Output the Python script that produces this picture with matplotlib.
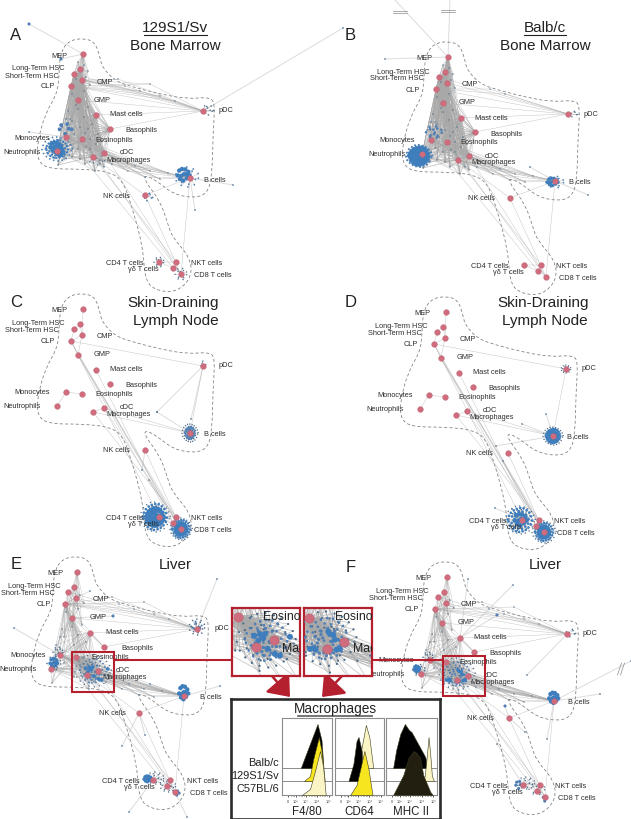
import itertools
import matplotlib
matplotlib.use("Agg")
import matplotlib.pyplot as plt
from matplotlib.collections import LineCollection
from matplotlib.patches import Rectangle, PathPatch, FancyArrowPatch
from matplotlib.path import Path

plt.rcParams['font.family'] = ['Liberation Sans', 'DejaVu Sans']
W, H = 631, 820

# ---------- network: labelled population hubs (layout) ----------
HUB_NAMES = ['MEP', 'Long-Term HSC', 'Short-Term HSC', 'CMP', 'CLP', 'GMP', 'Mast cells', 'Basophils',
             'Monocytes', 'Eosinophils', 'Neutrophils', 'cDC', 'Macrophages', 'B cells', 'NK cells', 'pDC',
             'CD4 T cells', 'γδ T cells', 'NKT cells', 'CD8 T cells']
HUB_X = [83, 80, 74, 82, 71, 78, 96, 110, 66, 82, 57, 104, 93, 190, 145, 203, 159, 173, 176, 181]
HUB_Y = [55, 70, 75, 81, 87, 101, 116, 130, 138, 140, 152, 154, 158, 179, 196, 112, 263, 269, 263, 275]
LABEL_X = [59, 38, 32, 105, 48, 102, 126, 141, 32, 114, 22, 127, 129, 215, 116, 226, 125, 143, 207, 213]
LABEL_Y = [56, 69, 76, 82, 87, 100, 115, 131, 138, 140, 152, 153, 160, 180, 196, 111, 264, 270, 264, 276]
POS = {n: (x, y) for n, x, y in zip(HUB_NAMES, HUB_X, HUB_Y)}

PANELS = ['A', 'B', 'C', 'D', 'E', 'F']
ORIGIN_X = {'A': 0, 'B': 365, 'C': 0, 'D': 363, 'E': -6, 'F': 364}
ORIGIN_Y = {'A': 0, 'B': 3, 'C': 255, 'D': 258, 'E': 518, 'F': 523}
LABEL_SHIFT_X = {'A': 0, 'B': 0, 'C': 0, 'D': 0, 'E': 2, 'F': 0}

HULL_X = [68, 83, 95, 100, 102, 115, 133, 160, 187, 210, 215, 213, 212, 207, 193, 173, 157, 145, 145, 160, 167, 172,
          190, 192, 177, 157, 145, 143, 132, 123, 110, 83, 50, 38, 37, 45, 57, 59, 60]
HULL_Y = [42, 39, 43, 58, 68, 82, 88, 95, 100, 98, 105, 135, 178, 195, 199, 195, 182, 176, 182, 202, 222, 238,
          258, 278, 293, 292, 282, 248, 208, 182, 173, 170, 170, 163, 145, 115, 95, 78, 55]

# irregular cloud of satellites, as unit offsets, read from the pDC/B-cell halos
HALO_X = [.95, .82, .61, .35, .08, -.22, -.48, -.71, -.9, -1.0, -.93, -.78, -.55, -.3, -.02, .27, .52, .76, .92, 1.02,
          .7, .45, .15, -.18, -.44, -.66, -.72, -.5, -.2, .1, .42, .66, .36, .02, -.3, -.38, -.08, .25, .4, .12]
HALO_Y = [.12, .5, .78, .93, 1.0, .94, .83, .63, .38, .05, -.3, -.62, -.82, -.97, -1.0, -.92, -.8, -.6, -.34, -.05,
          .25, .62, .72, .74, .55, .3, -.08, -.45, -.7, -.74, -.58, -.3, .05, .38, .3, -.1, -.4, -.35, .02, .1]
BIG_X = [-.6, -.25, .15, .55, .7, .35, -.1, -.5, -.8, .0, .35, -.35]
BIG_Y = [-.55, -.75, -.7, -.4, .05, .4, .7, .5, .05, -.1, -.05, .1]

SMALL, MED, LARGE = 1.0, 3.0, 10.0
DARK, STEEL, BLUE = '#4d6d8c', '#4f7fb4', '#3f7ebd'

# (kind, hubs, dx, dy, rx, ry, step, size, colour)
STAMPS = {
    'A': [('h', ['Neutrophils'], 0, -2, 15, 12, 1, 1.6, STEEL), ('h', ['Neutrophils'], 0, -2, -11, 9, 1, 2.5, BLUE),
          ('b', ['Neutrophils'], -1, -4, 7, 6, 1, LARGE, BLUE), ('b', ['Neutrophils'], 2, 1, -5, 5, 1, LARGE, BLUE),
          ('b', ['Monocytes'], 0, -8, 8, 7, 2, 8, STEEL), ('b', ['B cells'], -6, -3, 8, 8, 1, LARGE, BLUE),
          ('h', ['B cells'], -3, -1, 12, 10, 2, 1.5, STEEL), ('h', ['pDC'], 5, -1, 6, 5, 4, 1.2, DARK),
          ('h', ['CD4 T cells'], 0, 0, 5, 5, 3, 1.0, DARK), ('h', ['CD8 T cells'], 0, 0, 6, 6, 3, 1.0, DARK),
          ('h', ['NK cells'], 3, 2, 5, 4, 5, 1.5, STEEL), ('h', ['Macrophages'], 4, 3, 8, 5, 4, 1.0, DARK)],
    'B': [('h', ['Neutrophils'], -3, 2, 13, 11, 1, 2.4, STEEL), ('h', ['Neutrophils'], -3, 2, -10, 9, 1, 7, BLUE),
          ('h', ['Neutrophils'], -3, 2, 7, -6, 1, 8, BLUE), ('b', ['Neutrophils'], -3, 1, 10, 8, 1, LARGE, BLUE),
          ('h', ['Monocytes'], 3, -8, 8, 6, 3, 3.5, STEEL), ('b', ['B cells'], -2, 1, 7, 5, 1, 7, BLUE),
          ('h', ['B cells'], 0, 1, 9, 6, 3, 1.5, STEEL), ('h', ['pDC'], 5, 0, 5, 3, 5, 1.0, DARK)],
    'C': [('h', ['B cells'], 0, 0, 8, 9, 1, 1.0, DARK), ('h', ['B cells'], 0, 0, -5, 6, 1, 2.0, STEEL),
          ('h', ['CD4 T cells'], -4, 0, 15, 15, 1, 1.0, DARK), ('h', ['CD4 T cells'], -4, 0, -12, 13, 1, 3.5, BLUE),
          ('h', ['CD4 T cells'], -4, 0, 9, -9, 1, 8, BLUE), ('b', ['CD4 T cells'], -5, 2, 7, 8, 1, 10, BLUE),
          ('h', ['CD8 T cells'], 0, 0, 11, 11, 1, 1.0, DARK), ('h', ['CD8 T cells'], 0, 0, -9, 9, 1, 3, BLUE),
          ('h', ['CD8 T cells'], 0, 0, 6, -6, 1, 6, BLUE), ('h', ['pDC'], 0, -2, 3, 3, 7, 0.8, DARK)],
    'D': [('h', ['B cells'], 0, 0, 10, 9, 1, 1.0, DARK), ('h', ['B cells'], 0, 0, -7, 7, 1, 4, BLUE),
          ('b', ['B cells'], 0, 0, 6, 6, 1, 7, BLUE), ('h', ['pDC'], 0, 0, 5, 4, 2, 0.8, DARK),
          ('h', ['CD4 T cells'], -2, 0, 15, 14, 1, 1.0, DARK), ('h', ['CD4 T cells'], -2, 0, -12, 12, 1, 3.5, BLUE),
          ('b', ['CD4 T cells'], -1, 0, 8, 8, 1, 11, BLUE), ('h', ['CD8 T cells'], 0, 0, 12, 11, 1, 1.0, DARK),
          ('h', ['CD8 T cells'], 0, 0, -9, 9, 1, 3, BLUE), ('h', ['CD8 T cells'], 0, 0, 6, -6, 1, 5, BLUE)],
    'E': [('h', ['Macrophages', 'Eosinophils'], 6, -4, 18, 16, 1, 1.0, DARK),
          ('h', ['Macrophages', 'Eosinophils'], 6, -4, -13, 12, 1, 1.4, STEEL),
          ('h', ['Macrophages'], 5, -3, 8, -8, 2, 2.0, STEEL),
          ('b', ['Neutrophils'], 3, -6, 5, 6, 1, 6, BLUE), ('h', ['Neutrophils'], 3, -6, 7, 7, 3, 1.2, DARK),
          ('b', ['B cells'], 0, -3, 6, 9, 1, 10, BLUE), ('h', ['pDC'], 0, -2, 8, 8, 2, 1.2, DARK),
          ('h', ['pDC'], 0, -2, -5, 5, 5, 1.8, STEEL), ('b', ['CD4 T cells'], -5, -1, 5, 4, 1, 6, BLUE),
          ('h', ['CD4 T cells'], 2, -2, 9, 6, 2, 1.0, DARK), ('b', ['CD8 T cells'], 2, 1, 3, 3, 2, 5, STEEL),
          ('h', ['γδ T cells'], 1, 0, 8, 6, 2, 1.0, DARK), ('h', ['Monocytes'], -2, -3, 5, 5, 3, 1.2, DARK)],
    'F': [('h', ['Macrophages', 'Eosinophils'], 0, -6, 18, 16, 1, 1.0, DARK),
          ('h', ['Macrophages', 'Eosinophils'], 0, -6, -13, 12, 1, 1.4, STEEL),
          ('h', ['Macrophages'], 0, -4, 8, -8, 2, 2.0, STEEL),
          ('b', ['Neutrophils'], -4, -5, 4, 4, 1, 5, BLUE), ('h', ['Neutrophils'], -2, -4, 6, 6, 3, 1.2, DARK),
          ('b', ['B cells'], 0, -3, 6, 7, 1, 10, BLUE), ('h', ['pDC'], 4, -1, 5, 4, 5, 1.2, DARK),
          ('b', ['CD4 T cells'], -4, 0, 4, 5, 2, 5, STEEL), ('h', ['CD4 T cells'], 3, -2, 9, 6, 2, 1.0, DARK),
          ('b', ['CD8 T cells'], 0, 2, 3, 3, 3, 5, STEEL), ('h', ['NKT cells'], -3, 4, 8, 6, 3, 1.0, DARK),
          ('h', ['Monocytes'], -2, -3, 5, 5, 3, 1.2, DARK)],
}

# larger marked nodes (figure pixels)
LIVER_E_X = [85.8, 89.3, 91.3, 88.2, 92.4, 94, 98.5, 101.6, 107.8]
LIVER_E_Y = [669.3, 668.3, 670.8, 672.2, 668.3, 677, 680, 681, 669.9]
LIVER_F_X = [459, 461.1, 458, 462.1, 448.8, 446.7, 450.2, 465.2, 463.2]
LIVER_F_Y = [672.3, 672.9, 670.9, 675.6, 680.7, 681.1, 681.5, 681.1, 681.5]

# shared nodes that join several populations (layout of panel A)
TOP_X = [78, 84, 88, 76, 86, 90, 72, 84, 78, 70, 88]
TOP_Y = [63, 66, 72, 80, 78, 86, 95, 92, 110, 120, 108]
MID_X = [62, 72, 80, 88, 92, 85, 70, 78, 86, 72, 80, 90, 96, 64, 100, 85, 95, 104, 68, 76, 84, 74, 90, 98, 66, 82, 58, 102]
MID_Y = [128, 122, 128, 130, 125, 134, 146, 150, 148, 158, 160, 150, 145, 160, 165, 165, 172, 168, 112, 106, 118, 135, 140, 135, 120, 142, 166, 142]
PDC_X = [125, 140, 160, 175, 118, 150]
PDC_Y = [87, 92, 97, 102, 80, 85]
BLINK_X = [120, 135, 150, 168, 145, 160, 128, 112]
BLINK_Y = [162, 167, 172, 174, 178, 180, 172, 165]
TOP_HUBS = ['MEP', 'Long-Term HSC', 'Short-Term HSC', 'CMP', 'CLP', 'GMP']
MYELOID_HUBS = ['GMP', 'CLP', 'Short-Term HSC', 'Mast cells', 'Basophils', 'Monocytes', 'Eosinophils', 'Neutrophils', 'cDC', 'Macrophages']
BLINK_HUBS = ['Macrophages', 'cDC', 'Eosinophils', 'Monocytes', 'B cells']
LIVER_HUBS = ['GMP', 'CLP', 'Mast cells', 'Monocytes', 'Eosinophils', 'Neutrophils']
GROUPS = {
    'A': [(TOP_X, TOP_Y, TOP_HUBS), (MID_X, MID_Y, MYELOID_HUBS + ['CMP', 'Long-Term HSC']), (PDC_X, PDC_Y, ['CLP', 'CMP', 'pDC']), (BLINK_X, BLINK_Y, BLINK_HUBS)],
    'B': [(TOP_X, TOP_Y, TOP_HUBS), (MID_X, MID_Y, MYELOID_HUBS + ['CMP', 'Long-Term HSC', 'MEP']), (PDC_X[:2], PDC_Y[:2], ['CLP', 'pDC']), (BLINK_X, BLINK_Y, BLINK_HUBS)],
    'C': [], 'D': [],
    'E': [(TOP_X[4:], TOP_Y[4:], TOP_HUBS), (MID_X[::2], MID_Y[::2], LIVER_HUBS), (PDC_X, PDC_Y, ['CLP', 'pDC']), (BLINK_X, BLINK_Y, BLINK_HUBS)],
    'F': [(TOP_X[4:], TOP_Y[4:], TOP_HUBS), (MID_X[::2], MID_Y[::2], LIVER_HUBS), (PDC_X, PDC_Y, ['CLP', 'pDC']), (BLINK_X, BLINK_Y, BLINK_HUBS)],
}

LOCAL_EDGES = [('MEP', 'CMP'), ('Long-Term HSC', 'Short-Term HSC'), ('Long-Term HSC', 'CMP'), ('Short-Term HSC', 'CLP'), ('CMP', 'CLP'),
               ('CLP', 'GMP'), ('CMP', 'GMP'), ('Monocytes', 'Eosinophils'), ('Monocytes', 'Neutrophils'), ('cDC', 'Macrophages')]
LONG_EDGES = {
    'lymph': [('CLP', 'pDC'), ('pDC', 'B cells'), ('Macrophages', 'B cells'), ('cDC', 'B cells'), ('GMP', 'NKT cells'), ('GMP', 'γδ T cells'), ('CLP', 'CD4 T cells'),
              ('CLP', 'CD8 T cells'), ('GMP', 'CD8 T cells'), ('NK cells', 'CD8 T cells'), ('Mast cells', 'γδ T cells'), ('Macrophages', 'NKT cells'), ('cDC', 'CD8 T cells'),
              ('CD4 T cells', 'γδ T cells'), ('CD4 T cells', 'NKT cells'), ('CD4 T cells', 'CD8 T cells'), ('γδ T cells', 'NKT cells'), ('NKT cells', 'CD8 T cells'), ('γδ T cells', 'CD8 T cells')],
    'marrow': [('CLP', 'pDC'), ('CMP', 'pDC'), ('Short-Term HSC', 'pDC'), ('GMP', 'pDC'), ('Mast cells', 'pDC'), ('Macrophages', 'NKT cells'), ('cDC', 'CD8 T cells'), ('Eosinophils', 'CD8 T cells'),
               ('Monocytes', 'γδ T cells'), ('NK cells', 'B cells'), ('NK cells', 'CD8 T cells'), ('B cells', 'CD8 T cells'), ('CD4 T cells', 'NKT cells'), ('γδ T cells', 'CD8 T cells'), ('Macrophages', 'NK cells'),
               ('Basophils', 'pDC'), ('CD4 T cells', 'γδ T cells')],
}
PANEL_LONG = {'A': 'marrow', 'B': 'marrow', 'C': 'lymph', 'D': 'lymph', 'E': 'marrow', 'F': 'marrow'}

# outlying nodes and the population they hang from (figure pixels)
SPURS = {
    'A': [(29, 25, 'MEP'), (61, 60, 'MEP'), (29, 133, 'Monocytes'), (233, 186, 'B cells'), (195, 211, 'B cells'), (343, 29, 'pDC')],
    'B': [(394, 0, 'MEP'), (450, 0, 'MEP'), (588, 196, 'B cells'), (385, 60, 'MEP'), (530, 168, 'B cells')],
    'C': [(157, 413, 'pDC'), (157, 413, 'B cells'), (191, 420, 'pDC'), (142, 471, 'NK cells'), (149, 481, 'CD8 T cells')],
    'D': [(546, 415, 'B cells'), (522, 425, 'B cells'), (496, 447, 'B cells'), (503, 462, 'CD8 T cells'), (512, 510, 'CD4 T cells'), (495, 509, 'CD4 T cells')],
    'E': [(217, 580, 'pDC'), (14, 629, 'Monocytes'), (122, 747, 'NK cells'), (129, 813, 'CD4 T cells'), (187, 818, 'CD8 T cells'), (90, 592, 'CMP'),
          (113, 617, 'GMP'), (220, 687, 'B cells'), (150, 685, 'B cells'), (145, 736, 'NK cells')],
    'F': [(513, 586, 'Mast cells'), (497, 616, 'Mast cells'), (631, 662, 'B cells'), (600, 695, 'B cells'), (505, 707, 'NK cells'), (525, 733, 'NK cells'),
          (497, 745, 'CD4 T cells'), (547, 740, 'B cells'), (468, 580, 'Mast cells'), (527, 676, 'pDC')],
}
BLUE_SPURS = [(29, 25), (61, 60), (113, 617), (497, 616), (505, 707)]

# ---------- flow-cytometry histograms ----------
F480_BLACK_X = [.375, .71, .79, .83]
F480_BLACK_H = [0, 44, 28, 0]
F480_YELLOW_X = [.44, .56, .625, .737, .79, .855]
F480_YELLOW_H = [0, 5, 22, 44, 30, 0]
F480_PALE_X = [.40, .56, .66, .76, .82, .875]
F480_PALE_H = [0, 6, 24, 44, 29, 0]
CD64_PALE_X = [.48, .545, .63, .70, .78]
CD64_PALE_H = [0, 21, 43, 31, 0]
CD64_BLACK_X = [.275, .375, .44, .48, .545, .58]
CD64_BLACK_H = [0, 17, 40, 44, 30, 0]
CD64_YELLOW_X = [.31, .44, .60, .68, .765]
CD64_YELLOW_H = [0, 10, 44, 27, 0]
MHC_BLACK_X = [.14, .20, .28, .37, .45, .50, .63, .77, .82]
MHC_BLACK_H = [0, 18, 34, 44, 38, 36, 24, 11, 0]
MHC_PALE_X = [.72, .76, .80, .834, .87, .90, .94]
MHC_PALE_H = [0, 5, 25, 44, 25, 5, 0]
MHC_OLIVE_X = [.14, .20, .34, .44, .54, .60, .67, .73, .87, .92]
MHC_OLIVE_H = [0, 6, 20, 37, 44, 42, 37, 20, 3, 0]
STRAINS = ['Balb/c', '129S1/Sv', 'C57BL/6']
MARKERS = ['F4/80', 'CD64', 'MHC II']
BLACK_C, YELLOW_C, PALE_C, OLIVE_C = '#000000', '#f6e51f', '#fbf4c4', '#231f10'
HISTS = [
    [(F480_BLACK_X, F480_BLACK_H, 27, BLACK_C), (F480_YELLOW_X, F480_YELLOW_H, 14, YELLOW_C), (F480_PALE_X, F480_PALE_H, 0, PALE_C)],
    [(CD64_PALE_X, CD64_PALE_H, 27, PALE_C), (CD64_BLACK_X, CD64_BLACK_H, 14, BLACK_C), (CD64_YELLOW_X, CD64_YELLOW_H, 0, YELLOW_C)],
    [(MHC_BLACK_X, MHC_BLACK_H, 27, BLACK_C), (MHC_PALE_X, MHC_PALE_H, 14, PALE_C), (MHC_OLIVE_X, MHC_OLIVE_H, 0, OLIVE_C)],
]
TICK_POS = [.12, .27, .47, .70, .93]
TICK_TEXT = ['0', '10²', '10³', '10⁴', '10⁵']

HUB_C, RED = '#cf6c7e', '#b4202e'
TEXT_C = '#2e2e2e'

fig = plt.figure(figsize=(W / 100, H / 100), dpi=100)
ax = fig.add_axes([0, 0, 1, 1])
ax.set_xlim(0, W)
ax.set_ylim(H, 0)
ax.axis('off')


def px_axes(x0, y0, x1, y1, zorder=5):
    return fig.add_axes([x0 / W, 1 - y1 / H, (x1 - x0) / W, (y1 - y0) / H], zorder=zorder)


def draw_network(a, p, k=1.0):
    ox, oy = ORIGIN_X[p], ORIGIN_Y[p]
    hub = {n: (x + ox, y + oy) for n, (x, y) in POS.items()}
    segs, fars, nodes = [], [], []
    for u, v in LOCAL_EDGES + LONG_EDGES[PANEL_LONG[p]]:
        segs.append([hub[u], hub[v]])
    if p in 'AB':
        for u, v in itertools.combinations(MYELOID_HUBS, 2):
            segs.append([hub[u], hub[v]])
        for u, v in itertools.combinations(TOP_HUBS, 2):
            segs.append([hub[u], hub[v]])
        for u, v in itertools.product(TOP_HUBS[2:], MYELOID_HUBS[3:]):
            segs.append([hub[u], hub[v]])
    if p in 'EF':
        for u, v in itertools.product(['CLP', 'GMP', 'Mast cells'], ['Monocytes', 'Eosinophils', 'cDC', 'Macrophages', 'Basophils']):
            segs.append([hub[u], hub[v]])
    for xs, ys, hubs in GROUPS[p]:
        for x, y in zip(xs, ys):
            q = (x + ox, y + oy)
            nodes.append((q[0], q[1], 1.0, DARK))
            segs += [[q, hub[h]] for h in hubs]
    for kind, hubs, dx, dy, rx, ry, step, size, colour in STAMPS[p]:
        cx, cy = hub[hubs[0]][0] + dx, hub[hubs[0]][1] + dy
        ux, uy = (HALO_X, HALO_Y) if kind == 'h' else (BIG_X, BIG_Y)
        for a_x, a_y in zip(ux[::step], uy[::step]):
            q = (cx + a_x * rx, cy + a_y * ry)
            nodes.append((q[0], q[1], size, colour))
            segs += [[q, hub[h]] for h in hubs]
    if p in 'EF':
        lx, ly = (LIVER_E_X, LIVER_E_Y) if p == 'E' else (LIVER_F_X, LIVER_F_Y)
        for x, y in zip(lx, ly):
            nodes.append((x, y, 7, BLUE))
            segs += [[(x, y), hub[h]] for h in ['Macrophages', 'Eosinophils', 'cDC', 'Monocytes', 'Neutrophils', 'B cells']]
    for x, y, h in SPURS[p]:
        fars.append([(x, y), hub[h]])
        if (x, y) in BLUE_SPURS:
            nodes.append((x, y, 5, STEEL))
        else:
            nodes.append((x, y, 1.4, DARK))
    a.add_collection(LineCollection(fars, colors='#dcdcdc', linewidths=0.7 * k, zorder=1))
    a.add_collection(LineCollection(segs, colors='#a8a8a8', linewidths=0.32 * k, alpha=0.7, zorder=2))
    nodes.sort(key=lambda n: n[2])
    a.scatter([n[0] for n in nodes], [n[1] for n in nodes], s=[n[2] * k * k for n in nodes],
              c=[n[3] for n in nodes], linewidths=0, zorder=3)
    a.scatter([h[0] for h in hub.values()], [h[1] for h in hub.values()], s=17 * k * k, c=HUB_C,
              edgecolors='#b85f70', linewidths=0.25 * k, zorder=4)


def hull_path(ox, oy):
    pts = [(x + ox, y + oy) for x, y in zip(HULL_X, HULL_Y)]
    mid = lambda a, b: ((a[0] + b[0]) / 2, (a[1] + b[1]) / 2)
    verts, codes = [mid(pts[-1], pts[0])], [Path.MOVETO]
    for i, c in enumerate(pts):
        verts += [c, mid(c, pts[(i + 1) % len(pts)])]
        codes += [Path.CURVE3, Path.CURVE3]
    return Path(verts, codes)


for p in PANELS:
    ox, oy = ORIGIN_X[p], ORIGIN_Y[p]
    ax.add_patch(PathPatch(hull_path(ox, oy), fill=False, ec='#7a7a7a', lw=0.55, ls=(0, (4, 3)), zorder=1.5))
    draw_network(ax, p)
    for n, x, y in zip(HUB_NAMES, LABEL_X, LABEL_Y):
        ax.text(x + ox + LABEL_SHIFT_X[p], y + oy, n, fontsize=5.3, color=TEXT_C, ha='center', va='center', zorder=6)

# breaks on edges that leave the frame
for x, y in [(400, 13), (448, 12)]:
    for d in (-1, 1):
        ax.plot([x - 7, x + 7], [y + d, y + d], color='#8a8a8a', lw=0.5, zorder=6)
for d in (-1.5, 1.5):
    ax.plot([619 + d, 623 + d], [676, 664], color='#8a8a8a', lw=0.5, zorder=6)

# letters and titles
for s, x, y in [('A', 16, 36), ('B', 350, 36), ('C', 16, 303), ('D', 351, 303), ('E', 16, 565), ('F', 351, 568)]:
    ax.text(x, y, s, fontsize=12, color='#222222', ha='center', va='center')
for s, x, y in [('129S1/Sv', 175, 28), ('Bone Marrow', 175, 46), ('Balb/c', 545, 28), ('Bone Marrow', 545, 46),
                ('Skin-Draining', 173, 303), ('Lymph Node', 176, 321), ('Skin-Draining', 543, 303), ('Lymph Node', 545, 321),
                ('Liver', 175, 565), ('Liver', 545, 565)]:
    ax.text(x, y, s, fontsize=11, color='#222222', ha='center', va='center')
ax.plot([144, 207], [36, 36], color='#222222', lw=0.8)
ax.plot([524, 566], [36, 36], color='#222222', lw=0.8)

# red selection boxes and magnified crops
ax.add_patch(Rectangle((72, 653), 42, 40, fill=False, ec=RED, lw=1.5, zorder=7))
ax.add_patch(Rectangle((443, 657), 42, 40, fill=False, ec=RED, lw=1.5, zorder=7))
ax.plot([114, 232], [661, 661], color=RED, lw=1.5, zorder=7)
ax.plot([372, 443], [661, 661], color=RED, lw=1.5, zorder=7)
for p, (x0, y0, x1, y1), (cx0, cy0, cx1, cy1), (ex, mx) in [
        ('E', (232, 609, 300, 677), (72, 653, 114, 693), (263, 282)),
        ('F', (304, 609, 372, 677), (443, 657, 485, 697), (335, 353))]:
    z = px_axes(x0, y0, x1, y1)
    z.set_xlim(cx0, cx1)
    z.set_ylim(cy1, cy0)
    z.set_xticks([])
    z.set_yticks([])
    draw_network(z, p, 1.62)
    for sp in z.spines.values():
        sp.set_color(RED)
        sp.set_linewidth(1.6)
    for s, fx, fy in [('Eosinophils', ex, 617), ('Macrophages', mx, 649)]:
        z.text((fx - x0) / (x1 - x0), 1 - (fy - y0) / (y1 - y0), s, transform=z.transAxes, fontsize=8.8, color='#222222',
               ha='left', va='center', clip_on=True, zorder=8)

for a, b in [((272, 677), (290, 698)), ((342, 677), (322, 698))]:
    ax.add_patch(FancyArrowPatch(a, b, arrowstyle='-|>,head_length=0.6,head_width=0.48', mutation_scale=20,
                                 color=RED, lw=1.8, zorder=7, shrinkA=0, shrinkB=0))

# macrophage histogram box
box = px_axes(231, 700, 440, 820, zorder=6)
box.set_xlim(231, 440)
box.set_ylim(820, 700)
box.set_xticks([])
box.set_yticks([])
for sp in box.spines.values():
    sp.set_color('#2b2b2b')
    sp.set_linewidth(1.9)
box.text(335, 709, 'Macrophages', fontsize=9.8, color='#222222', ha='center', va='center')
box.plot([298, 372], [716.5, 716.5], color='#6a6a6a', lw=1.3)
for s, y in zip(STRAINS, [763, 776, 789]):
    box.text(279, y, s, fontsize=7.9, color='#222222', ha='right', va='center')
for (x0, x1), hists, m in zip([(282, 332), (335, 384), (386, 437)], HISTS, MARKERS):
    h = px_axes(x0, 719, x1, 796, zorder=7)
    h.set_xlim(0, 1)
    h.set_ylim(0, 77)
    for sp in h.spines.values():
        sp.set_color('#8c8c8c')
        sp.set_linewidth(0.8)
    h.set_yticks([])
    h.set_xticks(TICK_POS)
    h.set_xticklabels(TICK_TEXT, fontsize=2.8, color='#444444')
    h.set_xticks([.18, .21, .24, .33, .37, .40, .43, .53, .57, .60, .63, .66, .76, .80, .83, .86, .89], minor=True)
    h.tick_params(axis='x', which='major', length=1.6, width=0.5, pad=1.2, color='#111111')
    h.tick_params(axis='x', which='minor', length=1.0, width=0.4, color='#111111')
    for b in (27, 14):
        h.axhline(b, color='#8c8c8c', lw=0.7, zorder=1)
    for i, (xs, hs, base, c) in enumerate(hists):
        h.fill_between(xs, [base] * len(xs), [base + v for v in hs], facecolor=c, edgecolor='#3a3a1e', lw=0.4, zorder=2 + i)
    box.text((x0 + x1) / 2, 812, m, fontsize=8.3, color='#222222', ha='center', va='center')

fig.savefig('out.png', dpi=100)
